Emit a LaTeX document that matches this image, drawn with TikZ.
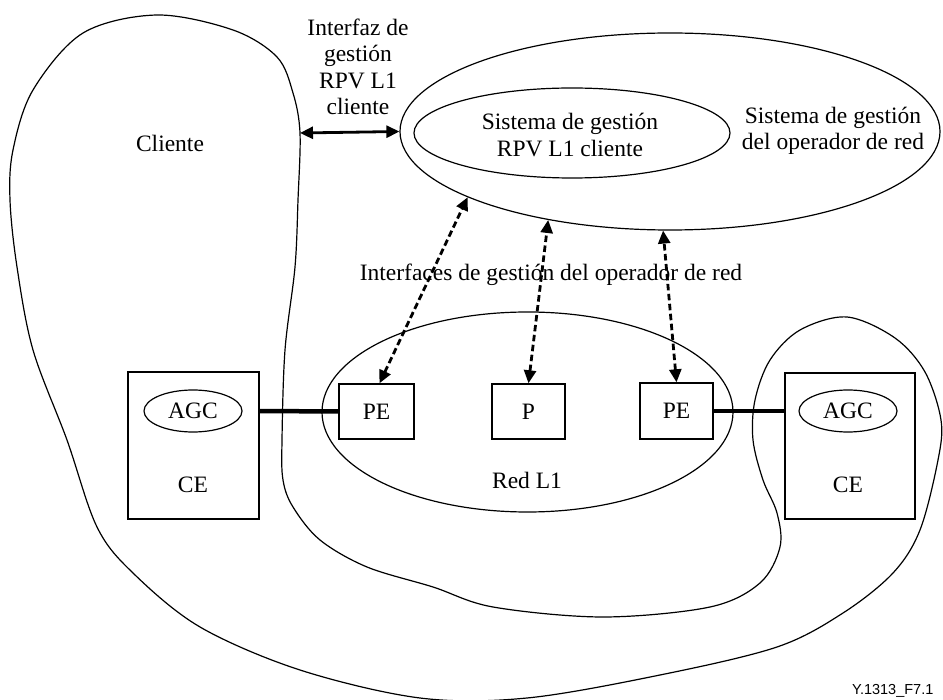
\documentclass[tikz,border=0pt]{standalone}
\usepackage{fontspec}
\setmainfont{Liberation Serif}
\newfontfamily\labelsans{Liberation Sans}
\usetikzlibrary{shapes.geometric,arrows.meta}
\begin{document}
\begin{tikzpicture}[x=1pt,y=-1pt,
  every node/.style={font=\fontsize{23.5}{26.5}\selectfont},
  outline/.style={line width=1.2pt},
  box/.style={draw,line width=1.4pt,rectangle,inner sep=0pt},
  oval/.style={draw,line width=1.2pt,ellipse,inner sep=0pt},
  link/.style={line width=4.5pt},
  mgmt/.style={line width=2.8pt,{Triangle[length=13pt,width=12pt]}-{Triangle[length=13pt,width=12pt]}},
  mgmtdash/.style={mgmt,dash pattern=on 6.5pt off 3.5pt}
]
\useasboundingbox (0,0) rectangle (943,700);

% Customer domain outline
\draw[outline] plot[smooth cycle,tension=0.55] coordinates {
  (157,15) (233,30) (277,57) (293,93) (300,133) (298,200) (295,267)
  (285,350) (282,440) (283,480) (293,507) (320,540) (367,567) (433,587)
  (493,607) (603,617) (710,607) (760,583) (780,547) (777,513) (763,480)
  (753,440) (755,400) (770,360) (800,330) (847,317) (895,338) (925,372)
  (941,420) (938,460) (920,530) (893,573) (843,613) (777,647) (660,675)
  (527,698) (420,698) (300,670) (200,627) (133,573) (97,527) (67,440)
  (33,350) (17,267) (10,200) (13,150) (33,90) (83,33)};
\node at (170,143) {Cliente};

% Network operator management system
\node[oval,minimum width=540pt,minimum height=197pt] (opsys) at (670,131.5) {};
\node[oval,minimum width=316pt,minimum height=90pt] (cusys) at (572,133) {};
\node[align=center] (cusyslbl) at (570,135) {Sistema de gestión\\RPV L1 cliente};
\node[align=center] (opsyslbl) at (833,131) {Sistema de gestión\\del operador de red};

% Customer management interface
\coordinate (cledge) at (300,133);
\draw[mgmt] (cledge) -- (opsys.west);
\node[align=center] (ifcl) at (358,67) {Interfaz de\\gestión\\RPV L1\\cliente};

% L1 network
\node[oval,minimum width=411pt,minimum height=200pt] (net) at (527.5,412) {};
\node (netlbl) at (527,480) {Red L1};

\node[box,minimum width=75pt,minimum height=55pt] (pe1) at (376.5,411.5) {PE};
\node[box,minimum width=73pt,minimum height=55pt] (p) at (528.5,411.5) {P};
\node[box,minimum width=73pt,minimum height=56pt] (pe2) at (676.5,411) {PE};

% Customer edges
\node[box,minimum width=131pt,minimum height=147pt] (ceL) at (193.5,445.5) {};
\node[oval,minimum width=98pt,minimum height=42pt] (agcL) at (193,411) {AGC};
\node (ceLlbl) at (193,485) {CE};

\node[box,minimum width=130pt,minimum height=146pt] (ceR) at (850,446) {};
\node[oval,minimum width=98pt,minimum height=42pt] (agcR) at (848,411) {AGC};
\node (ceRlbl) at (848,485) {CE};

\draw[link] (agcL -| ceL.east) -- (pe1.west);
\draw[link] (pe2.east) -- (pe2.east -| ceR.west);

% Operator management interfaces
\draw[mgmtdash] ([xshift=3pt]pe1.north) -- (opsys.198);
\draw[mgmtdash] (p.north) -- (opsys.216);
\draw[mgmtdash] (pe2.north) -- (opsys.266);
\node (ifop) at (551,275) {Interfaces de gestión del operador de red};

\node[font=\labelsans\fontsize{14.5}{17}\selectfont,anchor=base west,inner sep=0pt] (ref) at (852,694) {Y.1313\_F7.1};
\end{tikzpicture}
\end{document}
